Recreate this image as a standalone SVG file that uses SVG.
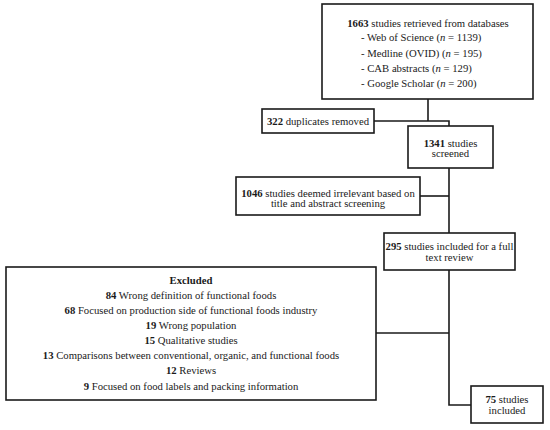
<svg xmlns="http://www.w3.org/2000/svg" width="550" height="430" viewBox="0 0 550 430">
<style>
.box{fill:#fff;stroke:#1a1a1a;stroke-width:1.6}
.ln{fill:none;stroke:#1a1a1a;stroke-width:1.6}
text{font-family:"Liberation Serif","Times New Roman",serif;font-size:10.7px;fill:#1a1a1a}
.c{text-anchor:middle}
.b{font-weight:bold}
</style>
<rect width="550" height="430" fill="#fff"/>
<g id="connectors">
<polyline class="ln" points="428,99 428,121"/>
<polyline class="ln" points="374,121 449,121 449,126"/>
<polyline class="ln" points="449,168 449,233"/>
<polyline class="ln" points="420,196 449,196"/>
<polyline class="ln" points="449,270 449,405 471,405"/>
<polyline class="ln" points="376,333 449,333"/>
</g>
<g id="n1663">
<rect class="box" x="322" y="4" width="211" height="95"/>
<text class="c" x="428" y="26.5"><tspan class="b">1663</tspan> studies retrieved from databases</text>
<text x="361" y="41">-  Web of Science  (<tspan font-style="italic">n</tspan> = 1139)</text>
<text x="361" y="56.5">-  Medline (OVID) (<tspan font-style="italic">n</tspan> = 195)</text>
<text x="361" y="71.5">-  CAB abstracts (<tspan font-style="italic">n</tspan> = 129)</text>
<text x="361" y="86.5">-  Google Scholar (<tspan font-style="italic">n</tspan> = 200)</text>
</g>
<g id="n322">
<rect class="box" x="262" y="109" width="112" height="24"/>
<text class="c" x="318" y="124.5"><tspan class="b">322</tspan> duplicates removed</text>
</g>
<g id="n1341">
<rect class="box" x="408" y="126" width="85" height="42"/>
<text class="c" x="450.5" y="146.5"><tspan class="b">1341</tspan> studies</text>
<text class="c" x="450.5" y="157">screened</text>
</g>
<g id="n1046">
<rect class="box" x="236" y="177" width="184" height="38"/>
<text class="c" x="328" y="196.5"><tspan class="b">1046</tspan> studies deemed irrelevant based on</text>
<text class="c" x="328" y="207">title and abstract screening</text>
</g>
<g id="n295">
<rect class="box" x="384" y="233" width="131" height="37"/>
<text class="c" x="449.5" y="249.5"><tspan class="b">295</tspan> studies included for a full</text>
<text class="c" x="449.5" y="260.5">text review</text>
</g>
<g id="excluded">
<rect class="box" x="6" y="267" width="370" height="133"/>
<text class="c b" x="191" y="283.5">Excluded</text>
<text class="c" x="191" y="298.5"><tspan class="b">84</tspan> Wrong definition of functional foods</text>
<text class="c" x="191" y="313.5"><tspan class="b">68</tspan> Focused on production side of functional foods industry</text>
<text class="c" x="191" y="329"><tspan class="b">19</tspan> Wrong population</text>
<text class="c" x="191" y="344"><tspan class="b">15</tspan> Qualitative studies</text>
<text class="c" x="191" y="359"><tspan class="b">13</tspan> Comparisons between conventional, organic, and  functional foods</text>
<text class="c" x="191" y="374"><tspan class="b">12</tspan> Reviews</text>
<text class="c" x="191" y="389.5"><tspan class="b">9</tspan> Focused on food labels and packing  information</text>
</g>
<g id="n75">
<rect class="box" x="471" y="386" width="72" height="37"/>
<text class="c" x="507" y="402.5"><tspan class="b">75</tspan> studies</text>
<text class="c" x="507" y="413.5">included</text>
</g>
</svg>
